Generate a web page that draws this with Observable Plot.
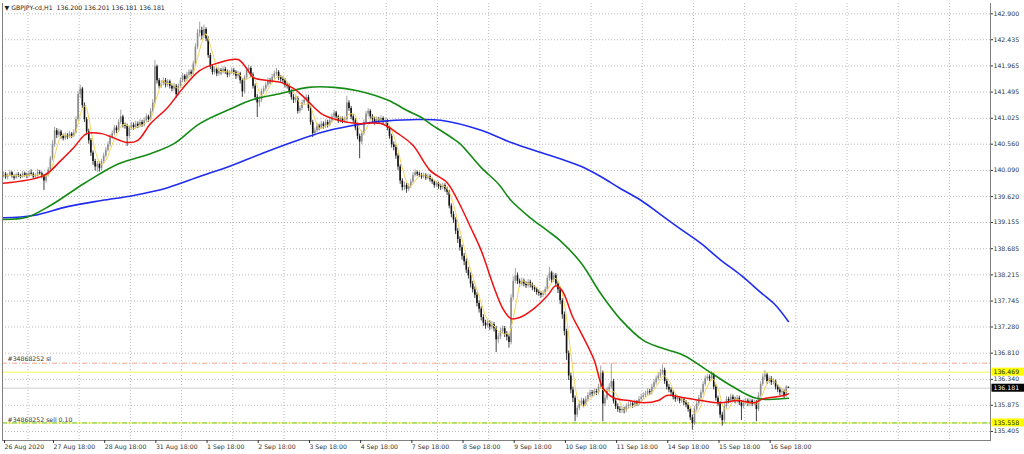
<!DOCTYPE html>
<html><head><meta charset="utf-8">
<script src="https://cdn.jsdelivr.net/npm/d3@7"></script>
<script src="https://cdn.jsdelivr.net/npm/@observablehq/plot@0.6"></script>
<style>
body{margin:0;background:#fff;}
#wrap{width:1024px;height:454px;overflow:hidden;}
</style></head><body><div id="wrap"></div>
<script>
const title = "\u25BC GBPJPY-cd,H1  136.200 136.201 136.181 136.181";
const yTicks = [142.900,142.435,141.965,141.495,141.025,140.560,140.090,139.620,139.155,138.685,138.215,137.745,137.280,136.810,136.340,135.875,135.405];
const xLabels = ["26 Aug 2020","27 Aug 18:00","28 Aug 18:00","31 Aug 18:00","1 Sep 18:00","2 Sep 18:00","3 Sep 18:00","4 Sep 18:00","7 Sep 18:00","8 Sep 18:00","9 Sep 18:00","10 Sep 18:00","11 Sep 18:00","14 Sep 18:00","15 Sep 18:00","16 Sep 18:00"];
const xLabelIdx = [0,23,47,71,95,119,143,167,191,215,239,263,287,311,335,359];

const firstOpen = 139.98;
const close = [
140.02,139.96,140.00,140.05,139.98,139.95,140.01,139.99,139.97,140.03,
140.00,139.98,140.04,140.02,139.97,139.99,140.05,140.03,139.98,139.90,
140.00,140.10,140.30,140.55,140.80,140.72,140.78,140.70,140.66,140.72,
140.68,140.74,140.70,140.76,141.00,141.45,141.55,141.25,141.00,140.78,
140.62,140.40,140.25,140.15,140.20,140.12,140.25,140.35,140.45,140.55,
140.68,140.75,140.85,140.80,140.95,141.05,140.90,140.88,140.70,140.85,
140.90,140.86,140.92,140.88,140.95,140.90,140.98,141.05,141.00,141.15,
141.30,141.95,141.70,141.60,141.65,141.70,141.62,141.68,141.60,141.55,
141.60,141.45,141.60,141.70,141.78,141.72,141.80,141.85,141.82,142.00,
142.30,142.55,142.60,142.50,142.62,142.45,142.15,141.95,141.85,141.90,
141.82,141.88,141.85,141.90,141.86,141.80,141.84,141.88,141.85,141.78,
141.82,141.70,141.50,141.75,141.88,141.92,141.80,141.60,141.40,141.30,
141.35,141.50,141.55,141.62,141.70,141.68,141.76,141.82,141.85,141.75,
141.72,141.70,141.62,141.60,141.50,141.40,141.35,141.38,141.15,141.20,
141.30,141.35,141.40,141.20,140.95,140.75,140.80,140.88,140.85,140.92,
140.88,140.95,140.90,140.98,141.05,141.12,141.05,140.98,141.02,140.98,
141.00,141.30,141.20,141.05,140.98,140.85,140.70,140.60,140.75,140.95,
141.10,141.15,141.05,141.00,140.95,141.00,140.98,141.02,140.95,140.98,
140.85,140.70,140.55,140.50,140.35,140.15,139.90,139.78,139.82,139.75,
139.80,139.88,140.00,140.05,140.02,140.00,139.97,140.00,139.95,139.98,
139.92,139.88,139.82,139.85,139.80,139.78,139.82,139.75,139.70,139.45,
139.30,139.20,139.00,138.85,138.70,138.55,138.45,138.30,138.20,138.05,
137.95,137.85,137.70,137.60,137.45,137.35,137.30,137.35,137.28,137.32,
137.25,137.05,137.10,137.20,137.25,137.15,137.10,137.00,137.80,138.10,
138.20,138.10,138.05,138.10,138.05,138.02,138.08,138.03,137.98,137.95,
137.90,137.88,137.85,137.88,137.95,138.15,138.25,138.12,138.20,138.05,
137.95,137.75,137.50,137.20,136.80,136.40,136.15,136.00,135.70,135.82,
135.90,135.95,135.88,135.98,136.05,136.10,136.08,136.12,136.10,136.20,
136.45,135.90,136.00,136.15,136.20,136.30,135.95,135.85,135.80,135.78,
135.80,135.78,135.85,135.88,135.90,135.87,135.92,135.90,135.98,136.02,
136.05,136.08,136.12,136.10,136.20,136.28,136.35,136.40,136.45,136.50,
136.30,136.20,136.15,136.10,136.02,135.98,136.00,135.95,135.98,135.92,
135.88,135.80,135.65,135.55,135.80,135.90,136.00,136.10,136.25,136.35,
136.38,136.35,136.42,136.20,136.00,135.90,135.70,135.60,135.85,135.98,
135.95,136.02,135.98,135.95,136.00,135.92,135.85,135.92,135.95,135.90,
135.95,135.90,135.92,135.80,136.05,136.25,136.38,136.42,136.30,136.35,
136.28,136.30,136.20,136.15,136.10,136.12,136.05,136.20,136.181];
const high = [
140.06,140.05,140.03,140.09,140.07,140.01,140.04,140.05,140.02,140.07,
140.06,140.04,140.08,140.10,140.05,140.03,140.11,140.09,140.06,140.02,
140.04,140.14,140.34,140.62,140.86,140.84,140.83,140.81,140.74,140.76,
140.75,140.79,140.77,140.82,141.05,141.50,141.62,141.58,141.30,141.04,
140.83,140.66,140.44,140.29,140.25,140.24,140.29,140.40,140.50,140.60,
140.73,140.80,140.90,140.89,141.00,141.17,141.08,140.94,140.92,140.89,
140.95,140.94,140.97,140.96,141.00,140.99,141.03,141.10,141.08,141.20,
141.36,142.06,141.98,141.74,141.70,141.75,141.74,141.72,141.71,141.64,
141.65,141.63,141.64,141.75,141.83,141.81,141.85,141.90,141.89,142.05,
142.36,142.62,142.75,142.66,142.70,142.65,142.49,142.19,141.99,141.95,
141.93,141.93,141.92,141.95,141.94,141.89,141.88,141.93,141.92,141.88,
141.87,141.85,141.74,141.79,141.93,141.98,141.95,141.84,141.64,141.45,
141.42,141.55,141.60,141.67,141.75,141.74,141.81,141.87,141.92,141.88,
141.79,141.77,141.74,141.67,141.64,141.54,141.45,141.43,141.41,141.25,
141.35,141.40,141.45,141.44,141.24,140.99,140.85,140.93,140.92,140.97,
140.96,141.00,140.99,141.03,141.10,141.17,141.15,141.08,141.06,141.05,
141.05,141.42,141.34,141.24,141.09,141.02,140.89,140.74,140.80,141.00,
141.15,141.20,141.18,141.09,141.04,141.05,141.04,141.07,141.05,141.03,
141.01,140.89,140.74,140.60,140.54,140.39,140.19,139.94,139.88,139.86,
139.85,139.93,140.05,140.10,140.08,140.06,140.04,140.04,140.03,140.02,
140.01,139.95,139.91,139.89,139.88,139.84,139.86,139.85,139.79,139.73,
139.49,139.35,139.24,139.05,138.90,138.75,138.60,138.50,138.35,138.25,
138.10,138.00,137.90,137.75,137.64,137.50,137.40,137.41,137.39,137.38,
137.36,137.29,137.16,137.26,137.30,137.29,137.20,137.15,137.86,138.18,
138.33,138.25,138.14,138.16,138.14,138.09,138.13,138.12,138.07,138.02,
137.99,137.94,137.92,137.93,138.00,138.20,138.35,138.28,138.25,138.24,
138.09,137.99,137.79,137.55,137.24,136.85,136.45,136.20,136.04,135.87,
135.95,136.00,135.99,136.03,136.10,136.15,136.14,136.17,136.16,136.25,
136.58,136.49,136.06,136.20,136.26,136.62,136.34,135.99,135.90,135.85,
135.85,135.84,135.90,135.93,135.95,135.94,135.97,135.96,136.03,136.07,
136.10,136.13,136.17,136.16,136.25,136.33,136.40,136.46,136.52,136.60,
136.54,136.34,136.25,136.19,136.14,136.06,136.05,136.03,136.03,136.01,
135.96,135.92,135.84,135.70,135.85,135.95,136.05,136.15,136.30,136.40,
136.43,136.42,136.48,136.45,136.24,136.04,135.94,135.75,135.90,136.03,
136.02,136.07,136.06,136.02,136.05,136.04,135.96,135.97,136.00,135.99,
136.00,135.98,135.97,135.96,136.10,136.30,136.44,136.50,136.45,136.40,
136.39,136.35,136.33,136.24,136.19,136.17,136.15,136.23,136.201];
const low = [
139.95,139.93,139.92,139.98,139.95,139.91,139.93,139.96,139.94,139.95,
139.97,139.94,139.96,139.99,139.93,139.94,139.97,140.00,139.94,139.73,
139.86,139.97,140.06,140.26,140.50,140.66,140.68,140.65,140.62,140.63,
140.64,140.66,140.66,140.68,140.74,140.97,141.38,141.20,140.95,140.72,
140.56,140.34,140.18,140.08,140.05,140.06,140.09,140.21,140.31,140.42,
140.51,140.64,140.71,140.75,140.77,140.91,140.85,140.83,140.52,140.66,
140.81,140.81,140.83,140.84,140.85,140.86,140.87,140.95,140.95,140.97,
141.12,141.27,141.64,141.55,141.56,141.61,141.57,141.58,141.55,141.50,
141.51,141.38,141.42,141.57,141.66,141.67,141.69,141.76,141.77,141.79,
141.96,142.26,142.48,142.43,142.46,142.40,142.10,141.90,141.80,141.81,
141.77,141.78,141.80,141.82,141.81,141.75,141.76,141.81,141.80,141.72,
141.74,141.64,141.40,141.46,141.71,141.84,141.75,141.55,141.34,141.04,
141.22,141.31,141.45,141.51,141.58,141.63,141.65,141.72,141.78,141.70,
141.67,141.65,141.57,141.55,141.45,141.35,141.29,141.30,141.10,141.11,
141.16,141.26,141.31,141.15,140.90,140.68,140.70,140.76,140.80,140.82,
140.83,140.84,140.85,140.87,140.94,141.01,141.00,140.93,140.94,140.93,
140.94,140.97,141.15,141.00,140.93,140.80,140.64,140.30,140.55,140.71,
140.91,141.05,141.00,140.95,140.90,140.91,140.93,140.94,140.90,140.91,
140.80,140.65,140.49,140.44,140.29,140.09,139.84,139.72,139.73,139.68,
139.71,139.76,139.85,139.97,139.98,139.96,139.93,139.94,139.91,139.92,
139.88,139.84,139.77,139.78,139.75,139.73,139.74,139.70,139.64,139.40,
139.24,139.14,138.94,138.78,138.64,138.48,138.38,138.24,138.14,137.98,
137.89,137.79,137.64,137.53,137.39,137.29,137.24,137.26,137.22,137.23,
137.19,136.82,136.98,137.05,137.15,137.09,137.03,136.90,136.96,137.75,
138.05,138.04,137.99,138.01,138.00,137.97,137.98,137.98,137.93,137.90,
137.85,137.83,137.80,137.81,137.84,137.92,138.10,138.06,138.08,138.00,
137.88,137.68,137.42,137.12,136.68,136.32,136.08,135.92,135.58,135.65,
135.78,135.86,135.83,135.85,135.94,136.01,136.03,136.04,136.05,136.06,
136.16,135.58,135.85,135.96,136.10,136.16,135.90,135.80,135.75,135.73,
135.73,135.72,135.74,135.81,135.84,135.82,135.83,135.85,135.86,135.94,
135.98,136.01,136.04,136.05,136.06,136.16,136.24,136.31,136.36,136.41,
136.25,136.15,136.10,136.05,135.97,135.93,135.94,135.90,135.91,135.87,
135.83,135.75,135.60,135.43,135.51,135.76,135.86,135.96,136.06,136.21,
136.31,136.30,136.31,136.15,135.95,135.85,135.64,135.50,135.56,135.81,
135.90,135.91,135.93,135.90,135.91,135.87,135.60,135.81,135.88,135.85,
135.86,135.85,135.86,135.58,135.76,136.01,136.21,136.33,136.25,136.26,
136.23,136.24,136.15,136.10,136.05,136.05,135.99,136.02,136.181];

// Moving averages (bar index, price)
const redI = [0,19,27,33,39,46,50,58,63,69,77,84,92,100,110,114,117,124,130,136,141,149,157,166,177,185,192,200,208,213,219,224,230,234,238,242,249,255,259,262,267,271,277,281,286,293,300,307,311,319,327,336,344,352,356,366,368];
const redP = [139.86,140.00,140.27,140.50,140.75,140.75,140.70,140.59,140.63,140.93,141.22,141.56,141.88,142.01,142.08,141.92,141.76,141.70,141.67,141.56,141.40,141.11,140.99,140.93,140.93,140.75,140.54,140.09,139.87,139.55,139.07,138.65,137.99,137.62,137.43,137.45,137.62,137.84,138.02,137.93,137.45,137.16,136.68,136.19,136.01,135.96,135.92,135.96,136.05,136.01,135.96,135.92,135.96,135.92,135.99,136.05,136.08];
const greenI = [0,11,22,38,54,69,80,92,108,116,130,143,155,166,177,181,189,196,200,210,214,224,232,238,247,255,261,271,280,289,300,308,319,332,341,353,368];
const greenP = [139.21,139.25,139.46,139.86,140.21,140.39,140.57,140.93,141.22,141.35,141.47,141.58,141.58,141.52,141.40,141.34,141.17,141.04,140.93,140.68,140.57,140.14,139.85,139.55,139.24,139.01,138.83,138.42,137.88,137.43,137.04,136.91,136.77,136.45,136.23,136.00,136.00];
const blueI = [0,14,30,46,61,77,92,107,121,135,149,163,177,191,205,224,238,252,261,271,280,289,299,308,317,327,336,346,355,362,368];
const blueP = [139.24,139.28,139.44,139.55,139.64,139.78,139.98,140.18,140.39,140.59,140.77,140.89,140.97,141.00,140.99,140.81,140.59,140.41,140.30,140.16,139.98,139.77,139.55,139.30,139.05,138.78,138.49,138.20,137.90,137.67,137.38];

const slPrice = 136.63, tpPrice = 136.469, bidPrice = 136.181, entryPrice = 135.558;

const bars = close.map((c, i) => ({i, open: i ? close[i-1] : firstOpen, close: c, high: high[i], low: low[i]}));
const up = bars.filter(d => d.close >= d.open), dn = bars.filter(d => d.close < d.open);
const ma = (I, P) => I.map((i, k) => ({i, p: P[k]}));
const dashDot = "5,2,1,2";

const plot = Plot.plot({
  width: 1024, height: 454,
  marginLeft: 2, marginRight: 34, marginTop: 3, marginBottom: 14,
  x: {domain: [-0.44, 462.76], axis: null, label: null},
  y: {domain: [135.243, 143.085], axis: null, label: null},
  style: {fontFamily: "DejaVu Sans, sans-serif", fontSize: "6.2px", background: "#fff", color: "#222", overflow: "visible"},
  marks: [
    Plot.gridY(yTicks, {stroke: "#bcbcbc", strokeOpacity: 1, strokeDasharray: "1,2"}),
    Plot.gridX(d3.range(11.5, 463, 24), {stroke: "#bcbcbc", strokeOpacity: 1, strokeDasharray: "1,2"}),
    Plot.ruleY([slPrice], {stroke: "#f7a58c", strokeDasharray: dashDot}),
    Plot.ruleY([tpPrice], {stroke: "#f9f98a", strokeWidth: 1.5}),
    Plot.ruleY([bidPrice], {stroke: "#dedede", strokeWidth: 1.5}),
    Plot.ruleY([entryPrice], {stroke: "#f3f36a", strokeWidth: 1.5}),
    Plot.ruleY([entryPrice], {stroke: "#6fc46f", strokeDasharray: dashDot}),
    Plot.text([slPrice], {y: d => d, frameAnchor: "left", dx: 5, dy: -2, lineAnchor: "bottom", textAnchor: "start", text: () => "#34868252 sl", fill: "#333"}),
    Plot.text([entryPrice], {y: d => d, frameAnchor: "left", dx: 5, dy: -1, lineAnchor: "bottom", textAnchor: "start", text: () => "#34868252 sell 0.10", fill: "#333"}),
    Plot.ruleX(up, {x: "i", y1: "low", y2: "high", stroke: "#8c8c8c", strokeWidth: 0.8}),
    Plot.ruleX(dn, {x: "i", y1: "low", y2: "high", stroke: "#111", strokeWidth: 0.8}),
    Plot.ruleX(up, {x: "i", y1: "open", y2: "close", stroke: "#8c8c8c", strokeWidth: 1.6}),
    Plot.ruleX(dn, {x: "i", y1: "open", y2: "close", stroke: "#111", strokeWidth: 1.6}),
    Plot.lineY(bars, Plot.windowY({k: 5, anchor: "end"}, {x: "i", y: "close", stroke: "#f2d35a", strokeWidth: 1})),
    Plot.line(ma(blueI, blueP), {x: "i", y: "p", stroke: "#1f2cf0", strokeWidth: 1.6, curve: "catmull-rom"}),
    Plot.line(ma(greenI, greenP), {x: "i", y: "p", stroke: "#148a14", strokeWidth: 1.6, curve: "catmull-rom"}),
    Plot.line(ma(redI, redP), {x: "i", y: "p", stroke: "#f01010", strokeWidth: 1.5, curve: "catmull-rom"}),
    Plot.frame({anchor: "left", stroke: "#808080"}),
    Plot.frame({anchor: "right", stroke: "#808080"}),
    Plot.frame({anchor: "bottom", stroke: "#808080"}),
    Plot.axisY(yTicks, {anchor: "right", label: null, tickSize: 2, tickPadding: 1, tickFormat: d => d.toFixed(3), color: "#333"}),
    Plot.axisX(xLabelIdx, {anchor: "bottom", label: null, tickSize: 3, tickPadding: 1, textAnchor: "start", dx: 1, tickFormat: d => xLabels[xLabelIdx.indexOf(d)], color: "#333"}),
    Plot.text([tpPrice, bidPrice, entryPrice], {y: d => d, frameAnchor: "right", dx: 3, textAnchor: "start", text: d => d.toFixed(3), fill: "#222"}),
    Plot.text([title], {frameAnchor: "top-left", dx: 2, dy: 2, lineAnchor: "top", textAnchor: "start", text: d => d, fill: "#222"})
  ]
});
document.getElementById("wrap").append(plot);
const boxes = {"136.469": ["#ffff00", "#222"], "135.558": ["#ffff00", "#222"], "136.181": ["#000", "#fff"]};
plot.querySelectorAll("text").forEach(t => {
  const k = t.textContent.trim();
  if (!boxes[k]) return;
  const b = t.getBBox();
  const r = document.createElementNS("http://www.w3.org/2000/svg", "rect");
  r.setAttribute("x", b.x - 2); r.setAttribute("y", b.y - 0.5);
  r.setAttribute("width", b.width + 9); r.setAttribute("height", b.height + 1);
  r.setAttribute("fill", boxes[k][0]);
  if (t.getAttribute("transform")) r.setAttribute("transform", t.getAttribute("transform"));
  t.parentNode.insertBefore(r, t);
  t.setAttribute("fill", boxes[k][1]);
});
</script></body></html>
